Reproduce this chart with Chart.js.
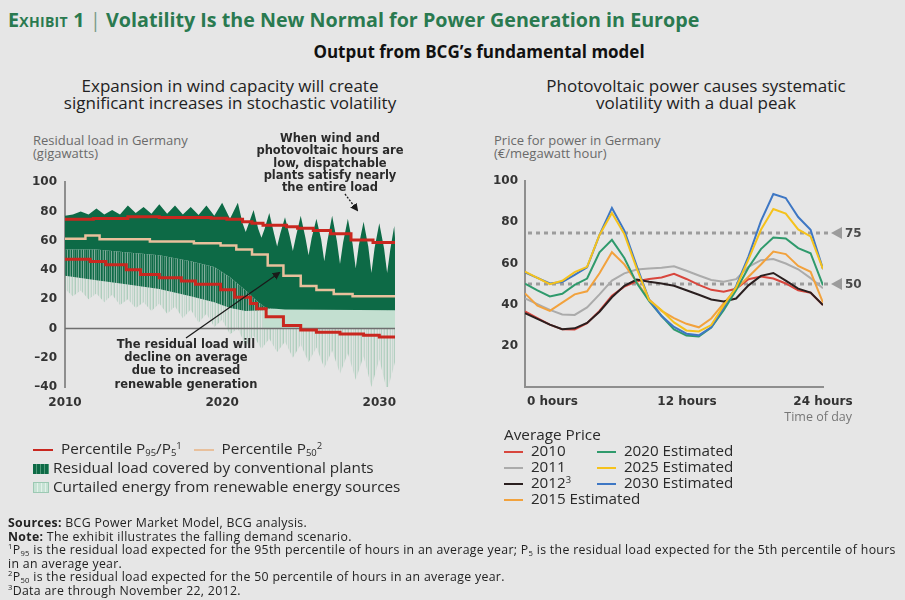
<!DOCTYPE html>
<html><head><meta charset="utf-8">
<script src="https://cdn.jsdelivr.net/npm/chart.js@4.4.1/dist/chart.umd.min.js"></script>
<style>
html,body{margin:0;padding:0;}
body{width:905px;height:600px;background:#e6e6e6;position:relative;overflow:hidden;font-family:"Open Sans",sans-serif;color:#222;}
.abs{position:absolute;white-space:nowrap;}
#title{left:8px;top:8px;font-size:19.7px;line-height:24px;font-weight:700;color:#2a7a50;}
#title .sc{font-variant:small-caps;letter-spacing:0.3px;}
#main{left:0;width:958px;top:41px;text-align:center;font-size:17px;line-height:22px;font-weight:700;color:#111;}
.sub{top:78px;font-size:17px;line-height:16.5px;text-align:center;color:#222;}
.axt{font-size:13px;line-height:13px;color:#6a6a6a;}
.ann{font-family:"DejaVu Sans",sans-serif;font-weight:700;font-size:11.5px;text-align:center;color:#2a2a2a;}
.leg{font-size:15.3px;line-height:19px;color:#2a2a2a;}
.sw{display:inline-block;vertical-align:middle;}
.fn{left:8px;top:516px;font-size:12.3px;line-height:13.6px;letter-spacing:0.32px;color:#222;}
sub{font-size:62%;vertical-align:-2px;line-height:0;}
sup{font-size:62%;vertical-align:5px;line-height:0;}
canvas{position:absolute;}
</style></head><body>

<div id="title" class="abs"><span class="sc">Exhibit 1</span> <span style="font-weight:400;color:#7a9a88">|</span> Volatility Is the New Normal for Power Generation in Europe</div>
<div id="main" class="abs">Output from BCG’s fundamental model</div>
<div class="abs sub" style="left:30px;width:400px">Expansion in wind capacity will create<br>significant increases in stochastic volatility</div>
<div class="abs sub" style="left:496px;width:400px">Photovoltaic power causes systematic<br>volatility with a dual peak</div>

<div class="abs axt" style="left:33px;top:134px">Residual load in Germany<br>(gigawatts)</div>
<div class="abs axt" style="left:494px;top:134px">Price for power in Germany<br>(€/megawatt hour)</div>

<canvas id="leftChart" width="390" height="245" style="left:20px;top:167px;width:390px;height:245px"></canvas>
<canvas id="rightChart" width="410" height="245" style="left:470px;top:167px;width:410px;height:245px"></canvas>

<div class="abs ann" style="left:250px;width:160px;top:132px;line-height:12.3px">When wind and<br>photovoltaic hours are<br>low, dispatchable<br>plants satisfy nearly<br>the entire load</div>
<div class="abs ann" style="left:96px;width:180px;top:338px;line-height:13.2px">The residual load will<br>decline on average<br>due to increased<br>renewable generation</div>

<svg class="abs" style="left:0;top:0" width="905" height="600">
  <defs>
    <marker id="ah" markerWidth="8" markerHeight="8" refX="6" refY="4" orient="auto" markerUnits="userSpaceOnUse">
      <path d="M0,0 L8,4 L0,8 Z" fill="#1a1a1a"/>
    </marker>
  </defs>
  <line x1="186" y1="338" x2="279" y2="273" stroke="#1a1a1a" stroke-width="1.3" marker-end="url(#ah)"/>
  <line x1="345" y1="194" x2="357" y2="210" stroke="#1a1a1a" stroke-width="1.3" stroke-dasharray="2,1.5" marker-end="url(#ah)"/>
</svg>

<div class="abs" style="right:53px;top:408px;font-size:12.5px;color:#777">Time of day</div>

<div class="abs leg" style="left:33px;top:439px">
  <span class="sw" style="width:20px;height:2px;background:#c9271f"></span>&nbsp;&nbsp;Percentile P<sub>95</sub>/P<sub>5</sub><sup>1</sup>
  &nbsp;&nbsp;<span class="sw" style="width:20px;height:2px;background:#e8c09c"></span>&nbsp;&nbsp;Percentile P<sub>50</sub><sup>2</sup>
</div>
<div class="abs leg" style="left:33px;top:458px">
  <span class="sw" style="width:16px;height:10px;background:repeating-linear-gradient(90deg,#0d6a46 0 3px,#4f9a78 3px 4px);"></span>&nbsp;Residual load covered by conventional plants
</div>
<div class="abs leg" style="left:33px;top:477px">
  <span class="sw" style="width:14px;height:9px;background:repeating-linear-gradient(90deg,#c6e2d4 0 3px,#e3f1ea 3px 4px);border:1px solid #9cc9b3"></span>&nbsp;Curtailed energy from renewable energy sources
</div>

<div class="abs leg" style="left:504px;top:425px;line-height:18px">Average Price</div>
<div id="rlegend"></div>

<div class="abs fn">
<b>Sources:</b> BCG Power Market Model, BCG analysis.<br>
<b>Note:</b> The exhibit illustrates the falling demand scenario.<br>
<sup>1</sup>P<sub>95</sub> is the residual load expected for the 95th percentile of hours in an average year; P<sub>5</sub> is the residual load expected for the 5th percentile of hours<br>
in an average year.<br>
<sup>2</sup>P<sub>50</sub> is the residual load expected for the 50 percentile of hours in an average year.<br>
<sup>3</sup>Data are through November 22, 2012.
</div>

<script>
// ---------- LEFT CHART DATA (residual load, GW) ----------
const loadTickYears = [2010, 2020, 2030];

const p95Years = [2010, 2011.8, 2014.0, 2016.0, 2019.3, 2020.3, 2021.3, 2021.9, 2022.6, 2024.1, 2024.8, 2025.8, 2026.9, 2028.2, 2029.6, 2031];
const p95Load  = [74.7, 75.2, 76.4, 75.8, 75.3, 74.7, 73.0, 72.0, 70.5, 69.5, 68.6, 67.0, 64.7, 60.5, 58.8, 58.8];

const p5Years = [2010, 2011.6, 2012.6, 2013.9, 2014.8, 2016.0, 2017.4, 2018.3, 2019.9, 2020.8, 2021.8, 2022.2, 2022.8, 2023.9, 2025, 2026, 2027.5, 2029, 2030, 2031];
const p5Load  = [47.3, 45.8, 43.6, 40.2, 36.9, 34.7, 32.4, 30.2, 26.5, 21.3, 17.0, 13.5, 8.0, 2.0, -1.0, -2.5, -3.8, -4.7, -5.8, -5.8];

const p50Years = [2010, 2011.3, 2012.2, 2015.4, 2018.2, 2019.9, 2020.9, 2021.9, 2022.9, 2023.9, 2025, 2026, 2027.1, 2028.3, 2031];
const p50Load  = [61.3, 63.5, 61.0, 59.5, 58.2, 56.8, 54.0, 50.5, 43.0, 36.0, 29.0, 26.3, 23.6, 22.0, 22.0];

// upper edge of the conventional-plant band (annual winter spikes, summer dips)
const convTopYears = [2010, 2010.5, 2011, 2011.5, 2012, 2012.5, 2013, 2013.5, 2014, 2014.5, 2015, 2015.5, 2016, 2016.5, 2017, 2017.5, 2018, 2018.5, 2019, 2019.5, 2020, 2020.5,
  2021, 2021.3, 2021.5, 2021.7, 2022, 2022.3, 2022.5, 2022.7, 2023, 2023.3, 2023.5, 2023.7, 2024, 2024.3, 2024.5, 2024.7, 2025, 2025.3, 2025.5, 2025.7,
  2026, 2026.3, 2026.5, 2026.7, 2027, 2027.3, 2027.5, 2027.7, 2028, 2028.3, 2028.5, 2028.7, 2029, 2029.3, 2029.5, 2029.7, 2030, 2030.3, 2030.5, 2030.7, 2030.95, 2031];
const convTopLoad = [77, 78, 80, 78, 82, 78, 81, 78, 84, 79, 83, 78.5, 85, 78.5, 84, 78, 83, 77.5, 84, 77, 86, 75,
  86, 72, 66, 72, 81, 68, 62, 68, 79, 65, 56, 65, 76, 63, 53, 63, 77, 62, 50, 62,
  75, 61, 46, 60, 77, 60, 44, 59, 75, 58, 41, 57, 73, 56, 38, 55, 72, 55, 38, 54, 70, 62];

// lower edge of the solid conventional-plant band
const convBottomYears = [2010, 2012, 2014, 2016, 2018, 2019.5, 2020.5, 2021.5, 2022.3, 2022.8, 2024, 2031];
const convBottomLoad  = [54, 54, 52, 50, 46, 42, 35, 26, 18, 14, 13, 12.5];

// lower reach of the dense conventional streaks
const streakYears = [2010, 2012, 2014, 2016, 2018, 2019.5, 2020.5, 2021.5, 2022.5, 2024, 2031];
const streakLoad  = [36, 33, 30, 27, 22, 18, 14, 12, 12.5, 13, 12.5];

// lowest reach of the pale (renewable surplus) streaks
const paleLowYears = [2010, 2010.5, 2011, 2011.5, 2012, 2012.5, 2013, 2013.5, 2014, 2014.5, 2015, 2015.5, 2016, 2016.5, 2017, 2017.5, 2018, 2018.5, 2019, 2019.5, 2020, 2020.5,
  2021, 2021.5, 2022, 2022.5, 2023, 2023.5, 2024, 2024.5, 2025, 2025.5, 2026, 2026.5, 2027, 2027.5, 2028, 2028.5, 2029, 2029.5, 2030, 2030.5, 2031];
const paleLowLoad = [27, 22, 26, 20, 24, 18, 23, 16, 20, 14, 18, 12, 17, 10, 15, 7, 13, 4, 10, 1, 6, -4,
  0, -12, -5, -14, -7, -16, -9, -20, -11, -23, -13, -27, -15, -31, -17, -35, -19, -40, -21, -43, -23];

// curtailed renewable energy band (0 up to this level)
const curtailYears = [2022.6, 2023, 2031];
const curtailLoad  = [12, 13.5, 12.5];

// ---------- RIGHT CHART DATA (price, EUR/MWh) ----------
const hours = [0,1,2,3,4,5,6,7,8,9,10,11,12,13,14,15,16,17,18,19,20,21,22,23,24];
const price2010 = [36.7, 33.5, 30.3, 28.0, 27.9, 31.0, 37.0, 44.4, 48.8, 51.4, 52.5, 53.2, 55.0, 52.5, 49.6, 47.2, 46.3, 47.7, 52.4, 53.7, 52.7, 50.3, 47.0, 45.8, 39.8];
const price2011 = [43.0, 40.3, 37.5, 35.2, 35.0, 38.7, 45.0, 51.7, 55.2, 57.1, 57.6, 58.0, 58.7, 56.5, 54.2, 52.0, 51.1, 52.4, 58.4, 61.6, 62.2, 60.0, 57.2, 52.9, 48.0];
const price2012 = [35.9, 33.1, 30.3, 28.1, 28.5, 31.1, 36.6, 43.6, 49.2, 52.2, 51.1, 50.3, 49.2, 47.0, 44.8, 42.5, 41.6, 43.0, 49.4, 54.0, 55.4, 51.7, 47.8, 45.9, 39.8];
const price2015 = [45.5, 39.5, 37.0, 41.0, 45.0, 46.5, 55.3, 65.5, 59.6, 51.0, 42.5, 37.0, 33.5, 30.7, 29.0, 33.3, 40.6, 47.7, 53.6, 59.5, 65.8, 64.6, 58.8, 56.0, 41.0];
const price2020 = [50.2, 47.0, 44.0, 45.3, 49.6, 52.7, 65.4, 71.5, 62.7, 50.5, 41.7, 34.5, 28.0, 25.0, 24.6, 28.9, 37.3, 47.0, 58.1, 67.0, 72.6, 72.2, 67.5, 65.0, 49.4];
const price2025 = [56.0, 53.0, 50.0, 51.6, 55.8, 58.4, 73.9, 84.5, 74.3, 57.5, 42.2, 37.3, 31.4, 27.5, 27.0, 30.1, 39.6, 48.4, 62.0, 76.4, 86.5, 84.3, 76.6, 73.2, 57.3];
const price2030 = [55.7, 53.0, 50.3, 51.0, 54.5, 58.1, 73.9, 87.0, 76.0, 58.8, 42.3, 34.5, 29.2, 25.9, 25.1, 29.0, 38.5, 49.0, 63.5, 80.6, 93.8, 91.8, 82.6, 76.4, 57.3];
const priceLabels = ['2010', '2011', '2012³', '2015 Estimated', '2020 Estimated', '2025 Estimated', '2030 Estimated'];
const priceColors = ['#d8463d', '#ababab', '#2a1f1f', '#f2a23d', '#2f9a6c', '#f5c21c', '#3e77c4'];
const refLevels = [75, 50];
const hourTicks = [0, 12, 24];
const hourLabels = ['0 hours', '12 hours', '24 hours'];

// ---------- helpers ----------
const xy = (xs, ys) => xs.map((x, i) => ({x: x, y: ys[i]}));
function stripePattern(rgb, alphas) {
  const c = document.createElement('canvas');
  c.width = alphas.length; c.height = 4;
  const g = c.getContext('2d');
  alphas.forEach((a, i) => { g.fillStyle = 'rgba(' + rgb + ',' + a + ')'; g.fillRect(i, 0, 1, 4); });
  return g.createPattern(c, 'repeat');
}
const darkStreaks = stripePattern('13,106,70', [1, 0.7, 0.95, 0.5, 1, 0.85, 0.6, 1, 0.45, 0.9, 0.75]);
const paleStreaks = stripePattern('110,178,142', [0.38, 0.08, 0.22, 0.48, 0.05, 0.16, 0.32, 0.03, 0.26, 0.1, 0.42, 0.06, 0.2]);

const tickFont = {family: '"DejaVu Sans", sans-serif', weight: 'bold', size: 12};
const DARK = '#0d6a46';

// ---------- LEFT CHART ----------
new Chart(document.getElementById('leftChart'), {
  type: 'line',
  data: {
    datasets: [
      {label: 'P95', data: xy(p95Years, p95Load), stepped: true, borderColor: '#c9271f', borderWidth: 3, pointRadius: 0, fill: false, order: 1},
      {label: 'P5', data: xy(p5Years, p5Load), stepped: true, borderColor: '#c9271f', borderWidth: 3, pointRadius: 0, fill: false, order: 1},
      {label: 'P50', data: xy(p50Years, p50Load), stepped: true, borderColor: '#e8c09c', borderWidth: 2.5, pointRadius: 0, fill: false, order: 2},
      {label: 'zero', data: xy([2010, 2031], [0, 0]), borderColor: '#6e6e6e', borderWidth: 1.5, pointRadius: 0, fill: false, order: 3},
      {label: 'Residual load covered by conventional plants', data: xy(convTopYears, convTopLoad), borderWidth: 0, pointRadius: 0,
        backgroundColor: DARK, fill: {target: 5}, order: 4},
      {label: 'conv bottom', data: xy(convBottomYears, convBottomLoad), borderWidth: 0, pointRadius: 0,
        backgroundColor: darkStreaks, fill: {target: 6}, order: 6},
      {label: 'streak low', data: xy(streakYears, streakLoad), borderWidth: 0, pointRadius: 0,
        backgroundColor: paleStreaks, fill: {target: 8}, order: 7},
      {label: 'Curtailed energy from renewable energy sources', data: xy(curtailYears, curtailLoad), borderWidth: 0, pointRadius: 0,
        backgroundColor: '#c3dfd0', fill: 'origin', order: 5},
      {label: 'pale low', data: xy(paleLowYears, paleLowLoad), borderWidth: 0, pointRadius: 0, fill: false, order: 8}
    ]
  },
  options: {
    responsive: false, animation: false, devicePixelRatio: 1,
    layout: {padding: {top: 10, right: 15, left: 0, bottom: 0}},
    plugins: {legend: {display: false}, tooltip: {enabled: false}},
    scales: {
      x: {type: 'linear', min: 2010, max: 2031,
        afterBuildTicks: s => { s.ticks = loadTickYears.map(v => ({value: v})); },
        afterFit: s => { s.height = 25; },
        grid: {display: false, drawTicks: false}, border: {display: false},
        ticks: {font: tickFont, color: '#333', padding: 9, callback: v => String(v)}},
      y: {min: -40, max: 100,
        afterFit: s => { s.width = 45; },
        grid: {display: false, drawTicks: false}, border: {display: true, color: '#8e8e8e', width: 2},
        ticks: {stepSize: 20, font: tickFont, color: '#333', padding: 8, callback: v => v < 0 ? '–' + Math.abs(v) : String(v)}}
    }
  }
});

// ---------- RIGHT CHART ----------
const refPlugin = {
  id: 'refLines',
  beforeDatasetsDraw(chart) {
    const {ctx, chartArea: a, scales: {y}} = chart;
    ctx.save();
    refLevels.forEach(v => {
      const py = Math.round(y.getPixelForValue(v));
      ctx.strokeStyle = '#9c9c9c'; ctx.lineWidth = 3; ctx.setLineDash([4, 4]);
      ctx.beginPath(); ctx.moveTo(a.left + 3, py); ctx.lineTo(a.right + 6, py); ctx.stroke();
    });
    ctx.restore();
  },
  afterDraw(chart) {
    const {ctx, chartArea: a, scales: {x, y}} = chart;
    ctx.save();
    refLevels.forEach(v => {
      const py = Math.round(y.getPixelForValue(v));
      ctx.fillStyle = '#9c9c9c';
      ctx.beginPath(); ctx.moveTo(a.right + 8, py); ctx.lineTo(a.right + 19, py - 6); ctx.lineTo(a.right + 19, py + 6); ctx.closePath(); ctx.fill();
      ctx.fillStyle = '#4a4a4a'; ctx.font = 'bold 12px "DejaVu Sans"'; ctx.textBaseline = 'middle'; ctx.textAlign = 'left';
      ctx.fillText(String(v), a.right + 22, py + 1);
    });
    ctx.fillStyle = '#333'; ctx.font = 'bold 12px "DejaVu Sans"'; ctx.textBaseline = 'top';
    hourTicks.forEach((h, i) => {
      const px = x.getPixelForValue(h);
      if (i === 0) { ctx.textAlign = 'left'; ctx.fillText(hourLabels[i], px + 2, a.bottom + 9); }
      else if (i === 1) { ctx.textAlign = 'center'; ctx.fillText(hourLabels[i], px + 13, a.bottom + 9); }
      else { ctx.textAlign = 'center'; ctx.fillText(hourLabels[i], px, a.bottom + 9); }
    });
    ctx.restore();
  }
};

const priceSeries = [price2010, price2011, price2012, price2015, price2020, price2025, price2030];
const drawOrder = [5, 6, 3, 4, 2, 1, 1.5];
new Chart(document.getElementById('rightChart'), {
  type: 'line',
  data: {
    datasets: priceSeries.map((s, i) => ({
      label: priceLabels[i], data: xy(hours, s), borderColor: priceColors[i], borderWidth: 2,
      pointRadius: 0, fill: false, tension: 0, order: drawOrder[i]
    }))
  },
  options: {
    responsive: false, animation: false, devicePixelRatio: 1,
    layout: {padding: {top: 10, right: 57, left: 0, bottom: 0}},
    plugins: {legend: {display: false}, tooltip: {enabled: false}},
    scales: {
      x: {type: 'linear', min: 0, max: 24,
        afterFit: s => { s.height = 25; },
        grid: {display: false, drawTicks: false}, border: {display: true, color: '#8e8e8e', width: 2},
        ticks: {display: false}},
      y: {min: 0, max: 100,
        afterFit: s => { s.width = 55; },
        grid: {display: false, drawTicks: false}, border: {display: true, color: '#8e8e8e', width: 2},
        ticks: {stepSize: 20, font: tickFont, color: '#333', padding: 7, callback: v => v === 0 ? '' : String(v)}}
    }
  },
  plugins: [refPlugin]
});

// right legend (HTML) built from series names / colours
(function () {
  const pos = [[504, 441], [504, 457], [504, 473], [504, 489], [597, 441], [597, 457], [597, 473]];
  const host = document.getElementById('rlegend');
  priceLabels.forEach((lab, i) => {
    const d = document.createElement('div');
    d.className = 'abs leg';
    d.style.left = pos[i][0] + 'px'; d.style.top = pos[i][1] + 'px'; d.style.lineHeight = '18px'; d.style.fontSize = '15.2px';
    const txt = lab.replace('³', '<sup>3</sup>');
    d.innerHTML = '<span class="sw" style="width:19px;height:2px;background:' + priceColors[i] + '"></span>&nbsp;&nbsp;' + txt;
    host.appendChild(d);
  });
})();
</script>
</body></html>
